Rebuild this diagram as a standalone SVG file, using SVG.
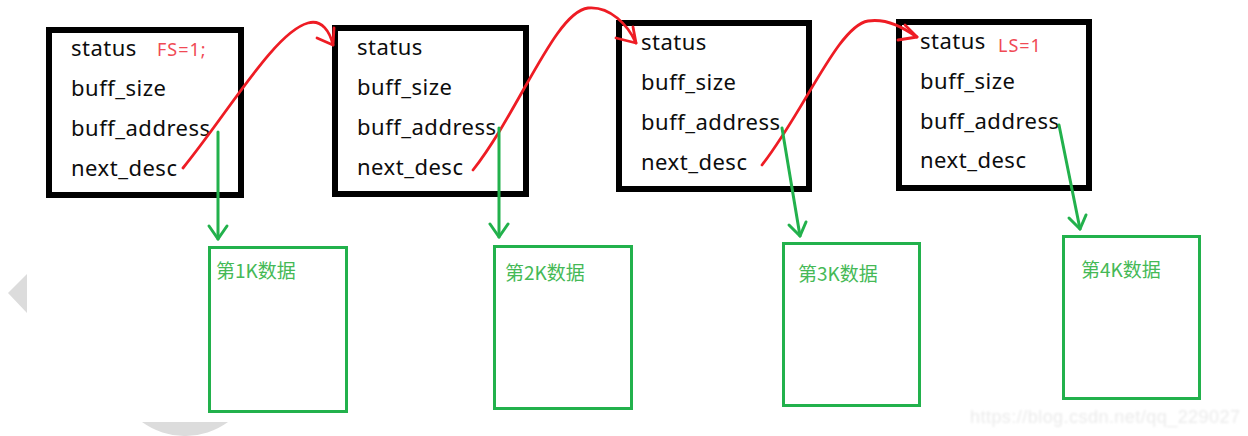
<svg xmlns="http://www.w3.org/2000/svg" width="1248" height="436" viewBox="0 0 1248 436">
  <style>
    .desc { fill: #ffffff; stroke: #000000; stroke-width: 6; }
    .field { font-family: "Noto Sans", "Liberation Sans", sans-serif; font-size: 22px; letter-spacing: 0.5px; fill: #0d0d0d; }
    .flag { font-family: "Noto Sans", "Liberation Sans", sans-serif; font-size: 18px; letter-spacing: 1px; fill: #f04a55; }
    .buf { fill: #ffffff; stroke: #22b14c; stroke-width: 3; }
    .buftext { font-family: "Noto Sans CJK SC", "Noto Sans", sans-serif; font-size: 19px; fill: #45b956; }
    .next { fill: none; stroke: #ee1c24; stroke-width: 2.8; stroke-linecap: round; stroke-linejoin: round; }
    .addr { fill: none; stroke: #22b14c; stroke-width: 3; stroke-linecap: round; stroke-linejoin: round; }
    .mark { fill: #dcdcdc; }
    .wm { font-family: "Liberation Sans", Arial, sans-serif; font-size: 18px; fill: #ebebeb; }
  </style>
  <defs>
    <filter id="soft" x="-5%" y="-50%" width="110%" height="200%">
      <feGaussianBlur stdDeviation="0.8"/>
    </filter>
  </defs>

  <rect width="1248" height="436" fill="#ffffff"/>

  <!-- grey page decorations -->
  <polygon class="mark" points="8,293 27,274 27,313"/>
  <path class="mark" d="M142 422 H228 A73 73 0 0 1 142 422 Z"/>

  <!-- descriptor 1 -->
  <g id="desc1">
    <rect class="desc" x="49" y="30" width="192" height="165"/>
    <text class="field" x="71" y="56">status</text>
    <text class="flag" x="157" y="56">FS=1;</text>
    <text class="field" x="71" y="96">buff_size</text>
    <text class="field" x="71" y="136">buff_address</text>
    <text class="field" x="71" y="176">next_desc</text>
  </g>

  <!-- descriptor 2 -->
  <g id="desc2">
    <rect class="desc" x="335" y="28" width="191" height="166"/>
    <text class="field" x="357" y="55">status</text>
    <text class="field" x="357" y="95">buff_size</text>
    <text class="field" x="357" y="135">buff_address</text>
    <text class="field" x="357" y="175">next_desc</text>
  </g>

  <!-- descriptor 3 -->
  <g id="desc3">
    <rect class="desc" x="619" y="23" width="190" height="166"/>
    <text class="field" x="641" y="50">status</text>
    <text class="field" x="641" y="90">buff_size</text>
    <text class="field" x="641" y="130">buff_address</text>
    <text class="field" x="641" y="170">next_desc</text>
  </g>

  <!-- descriptor 4 -->
  <g id="desc4">
    <rect class="desc" x="899" y="22" width="190" height="166"/>
    <text class="field" x="920" y="49">status</text>
    <text class="flag" x="998" y="52">LS=1</text>
    <text class="field" x="920" y="89">buff_size</text>
    <text class="field" x="920" y="129">buff_address</text>
    <text class="field" x="920" y="168">next_desc</text>
  </g>

  <!-- data buffers -->
  <g id="buf1">
    <rect class="buf" x="209.5" y="247.5" width="137" height="164"/>
    <text class="buftext" x="216" y="278">第1K数据</text>
  </g>
  <g id="buf2">
    <rect class="buf" x="494.5" y="246.5" width="137" height="162"/>
    <text class="buftext" x="505" y="280">第2K数据</text>
  </g>
  <g id="buf3">
    <rect class="buf" x="783.5" y="243.5" width="136" height="162"/>
    <text class="buftext" x="798" y="281">第3K数据</text>
  </g>
  <g id="buf4">
    <rect class="buf" x="1063.5" y="236.5" width="136" height="162"/>
    <text class="buftext" x="1081" y="277">第4K数据</text>
  </g>

  <!-- connectors: next_desc chain (red) and buffer pointers (green) -->
  <g id="connectors">
    <path class="next" d="M183 168 C 230 110, 275 32, 308 23 C 322 19, 330 32, 333 45"/>
    <path class="next" d="M317 38 L333 45 L334 28"/>

    <path class="next" d="M473 170 C 520 110, 555 12, 588 8 C 610 6, 628 25, 636 43"/>
    <path class="next" d="M616 38 L636 43 L633 27"/>

    <path class="next" d="M762 165 C 805 110, 838 26, 868 21 C 888 18, 905 29, 917 37"/>
    <path class="next" d="M898 40 L917 37 L905 25"/>

    <path class="addr" d="M218 132 L218 239"/>
    <path class="addr" d="M209 226 L218 239 L227 226"/>

    <path class="addr" d="M499 128 L499 237"/>
    <path class="addr" d="M490 224 L499 237 L508 224"/>

    <path class="addr" d="M782 128 L800 236"/>
    <path class="addr" d="M789 225 L800 236 L806 222"/>

    <path class="addr" d="M1059 125 L1080 229"/>
    <path class="addr" d="M1069 218 L1080 229 L1086 215"/>
  </g>

  <text class="wm" x="970" y="423" textLength="270" lengthAdjust="spacing" filter="url(#soft)">https://blog.csdn.net/qq_229027</text>
</svg>
